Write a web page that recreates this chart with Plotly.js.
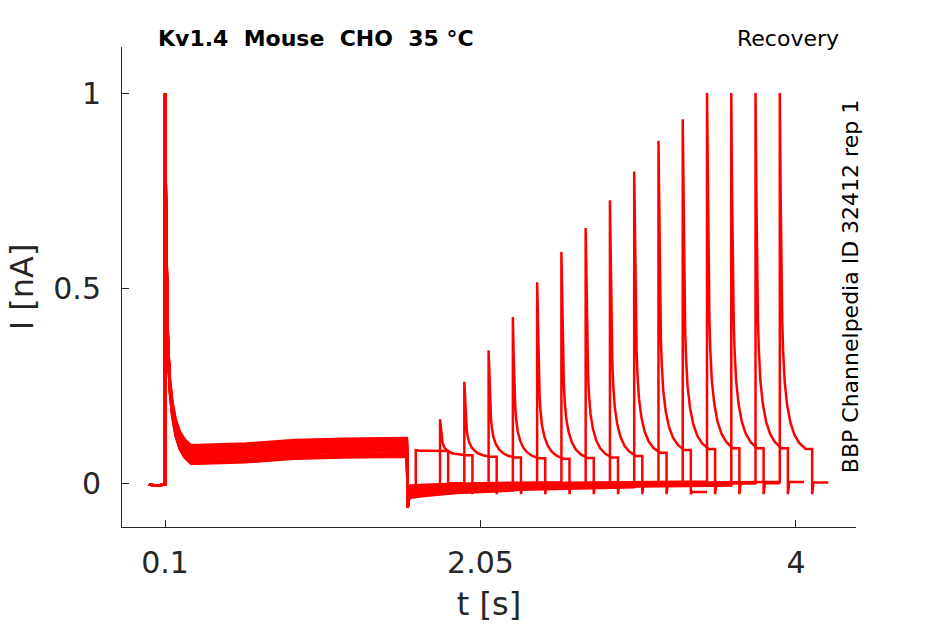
<!DOCTYPE html>
<html>
<head>
<meta charset="utf-8">
<script src="https://cdn.plot.ly/plotly-3.0.1.min.js"></script>
<style>
  html, body { margin: 0; padding: 0; background: #fff; }
  #chart { width: 945px; height: 624px; }
</style>
</head>
<body>
<div id="chart"></div>
<script>
// values (16 sweeps, current normalised to the first peak)
const testStart   = [1.65, 1.80, 1.95, 2.10, 2.25, 2.40, 2.55, 2.70, 2.85, 3.00, 3.15, 3.30, 3.45, 3.60, 3.75, 3.90];
const testPeak    = [0.085, 0.164, 0.26, 0.341, 0.426, 0.515, 0.593, 0.654, 0.725, 0.799, 0.878, 0.933, 1, 1, 1, 1];
const testPlateau = [0.083, 0.072, 0.068, 0.066, 0.064, 0.063, 0.065, 0.066, 0.07, 0.078, 0.085, 0.088, 0.09, 0.09, 0.09, 0.088];
const postLevel   = [0.0, 0.0, 0.0, 0.0, -0.002, 0.0, 0.0, 0.0, 0.0, 0.0, -0.022, 0.0, 0.0, 0.0, 0.003, 0.002];
const testLength = 0.2;
const postLength = 0.1;

// prepulse: 0.1 s -> 1.6 s, sustained level rises slowly
const prePlateauTimes = [0.3, 0.6, 0.9, 1.2, 1.595];
const prePlateauMean  = [0.074, 0.078, 0.087, 0.09, 0.092];
const prePlateauOffset = [0.02, -0.015, 0.008, -0.022, 0.014, -0.004, 0.024, -0.01, 0.002, -0.018, 0.017, -0.007, 0.011, -0.024, 0.005, -0.001];

// shape of the fast inactivation after each peak (time after peak, fraction left)
const decayDt   = [0, 0.005, 0.01, 0.015, 0.02, 0.03, 0.045, 0.065, 0.09, 0.12, 0.16];
const decayFrac = [1, 0.72, 0.5, 0.36, 0.28, 0.19, 0.125, 0.075, 0.04, 0.017, 0];

// holding between prepulse and test pulse
const recTimes  = [1.6, 1.61, 1.7, 1.9, 2.3, 2.9, 3.6, 4.2];
const recMean   = [-0.026, -0.022, -0.018, -0.013, -0.008, -0.004, -0.001, 0.001];
const recSpread = [1, 1, 0.9, 0.75, 0.6, 0.5, 0.45, 0.4];
const recOffset = [-0.012, 0.014, -0.004, 0.009, -0.016, 0.003, 0.016, -0.008, 0.006, -0.014, 0.011, -0.001, 0.013, -0.01, 0.001, 0.008];
const capDip = -0.062;
const tailDip = -0.028;

const xTicks = [0.1, 2.05, 4];
const xTickText = ['0.1', '2.05', '4'];
const yTicks = [0, 0.5, 1];
const yTickText = ['0', '0.5', '1'];

const recAt = (t, k) => {
  let i = 0;
  while (i < recTimes.length - 2 && recTimes[i + 1] < t) i++;
  const f = (t - recTimes[i]) / (recTimes[i + 1] - recTimes[i]);
  const v0 = recMean[i] + recSpread[i] * recOffset[k];
  const v1 = recMean[i + 1] + recSpread[i + 1] * recOffset[k];
  return v0 + (v1 - v0) * Math.min(Math.max(f, 0), 1);
};

const buildSweep = k => {
  const x = [];
  const y = [];
  const add = (t, v) => { x.push(t); y.push(v); };

  // baseline before the prepulse
  add(0, -0.003);
  add(0.05, -0.006);
  add(0.1, -0.003);

  // prepulse peak and decay
  const pre0 = prePlateauMean[0] + prePlateauOffset[k];
  decayDt.forEach((dt, i) => add(0.1 + dt, pre0 + decayFrac[i] * (1 - pre0)));
  prePlateauTimes.forEach((t, i) => add(t, prePlateauMean[i] + prePlateauOffset[k]));

  // back to holding
  add(1.6, capDip);
  recTimes.forEach((t, i) => {
    if (i > 0 && t < testStart[k]) add(t, recMean[i] + recSpread[i] * recOffset[k]);
  });
  const ts = testStart[k];
  add(ts, recAt(ts, k));

  // test pulse
  const peak = testPeak[k];
  const plat = testPlateau[k];
  decayDt.forEach((dt, i) => add(ts + dt, plat + decayFrac[i] * (peak - plat)));
  const te = ts + testLength;
  add(te, plat);
  add(te, tailDip);
  add(te + 0.008, postLevel[k]);
  add(te + postLength, postLevel[k]);

  return {
    x, y,
    type: 'scatter',
    mode: 'lines',
    line: { color: '#ff0000', width: 2.5 },
    hoverinfo: 'skip',
    showlegend: false,
  };
};

const data = testStart.map((_, k) => buildSweep(k));

const axisColor = '#262626';
const layout = {
  width: 945,
  height: 624,
  margin: { l: 122, r: 89, t: 47, b: 97 },
  paper_bgcolor: '#ffffff',
  plot_bgcolor: '#ffffff',
  font: { family: 'DejaVu Sans', color: axisColor },
  xaxis: {
    range: [-0.166, 4.371],
    tickvals: xTicks,
    ticktext: xTickText,
    ticks: 'inside',
    ticklen: 7,
    tickcolor: axisColor,
    showline: true,
    linecolor: axisColor,
    linewidth: 1,
    showgrid: false,
    zeroline: false,
    tickfont: { size: 30, color: axisColor },
    ticklabelstandoff: 9,
    title: { text: 't [s]', font: { size: 32, color: axisColor }, standoff: 13 },
  },
  yaxis: {
    range: [-0.112, 1.118],
    tickvals: yTicks,
    ticktext: yTickText,
    ticks: 'inside',
    ticklen: 7,
    tickcolor: axisColor,
    showline: true,
    linecolor: axisColor,
    linewidth: 1,
    showgrid: false,
    zeroline: false,
    tickfont: { size: 30, color: axisColor },
    ticklabelstandoff: 14,
    title: { text: 'I [nA]', font: { size: 32, color: axisColor }, standoff: 10 },
  },
  annotations: [
    {
      text: '<b>Kv1.4\u00a0\u00a0Mouse\u00a0\u00a0CHO\u00a0\u00a035 °C</b>',
      xref: 'paper', yref: 'paper', x: 0.046, y: 1.017,
      xanchor: 'left', yanchor: 'middle', showarrow: false,
      font: { size: 22, color: '#000000' },
    },
    {
      text: 'Recovery',
      xref: 'paper', yref: 'paper', x: 0.98, y: 1.017,
      xanchor: 'right', yanchor: 'middle', showarrow: false,
      font: { size: 22, color: '#000000' },
    },
    {
      text: 'BBP Channelpedia ID 32412 rep 1',
      xref: 'paper', yref: 'paper', x: 0.992, y: 0.5,
      xanchor: 'center', yanchor: 'middle', showarrow: false, textangle: -90,
      font: { size: 22, color: '#000000' },
    },
  ],
};

Plotly.newPlot('chart', data, layout, { displayModeBar: false, staticPlot: true });
</script>
</body>
</html>
